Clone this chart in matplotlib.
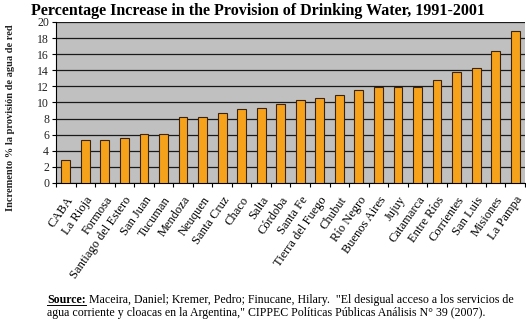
"""Incremento % en la provisión de agua de red por provincia, 1991-2001."""

import numpy as np
import matplotlib
matplotlib.use("Agg")
import matplotlib.pyplot as plt
from matplotlib.lines import Line2D

plt.rcParams["font.family"] = ["Liberation Serif", "DejaVu Serif"]

provinces = ["CABA", "La Rioja", "Formosa", "Santiago del Estero", "San Juan",
             "Tucuman", "Mendoza", "Neuquen", "Santa Cruz", "Chaco", "Salta",
             "Córdoba", "Santa Fe", "Tierra del Fuego", "Chubut", "Río Negro",
             "Buenos Aires", "Jujuy", "Catamarca", "Entre Ríos", "Corrientes",
             "San Luis", "Misiones", "La Pampa"]
increase = [2.9, 5.3, 5.4, 5.6, 6.1, 6.1, 8.2, 8.2, 8.7, 9.2, 9.3, 9.8,
            10.3, 10.5, 10.9, 11.6, 11.9, 11.9, 11.9, 12.8, 13.8, 14.3, 16.4, 18.9]
y_ticks = list(range(0, 21, 2))

title = "Percentage Increase in the Provision of Drinking Water, 1991-2001"
ylabel = "Incremento % la provisión de agua de red"
source_1 = ("Maceira, Daniel; Kremer, Pedro; Finucane, Hilary.  "
            "\"El desigual acceso a los servicios de")
source_2 = ("agua corriente y cloacas en la Argentina,\" CIPPEC Políticas "
            "Públicas Análisis N° 39 (2007).")

fig = plt.figure(figsize=(5.26, 3.24), dpi=100)
ax = fig.add_axes([56 / 526, 1 - 183 / 324, 469 / 526, 161 / 324])
ax.set_facecolor("#c0c0c0")

x = np.arange(len(provinces))
ax.bar(x, increase, width=0.45, color="#f7a21b", edgecolor="#3a2410",
       linewidth=0.8, zorder=3)

ax.set_xlim(-0.5, len(provinces) - 0.5)
ax.set_ylim(0, 20)
ax.set_yticks(y_ticks)
ax.yaxis.grid(True, color="#1a1a1a", linewidth=0.9, zorder=1)
ax.set_axisbelow(True)

ax.set_xticks(x)
ax.set_xticklabels(provinces, rotation=55, ha="right", rotation_mode="anchor",
                   fontsize=9)
ax.set_xticks(np.arange(-0.5, len(provinces), 1), minor=True)
ax.tick_params(axis="x", which="major", length=0, pad=8)
ax.tick_params(axis="x", which="minor", length=3, width=0.8, color="black")
ax.tick_params(axis="y", length=3, width=0.8, labelsize=8.5,
               labelcolor="#222222", pad=2)

for side in ("top", "right"):
    ax.spines[side].set_visible(False)
ax.spines["left"].set_color("black")
ax.spines["bottom"].set_color("black")

fig.text(31 / 526, 1 - 11 / 324, title, fontsize=11.5, fontweight="bold",
         ha="left", va="center")
fig.text(11 / 526, 1 - 118 / 324, ylabel, fontsize=7.5, fontweight="bold",
         rotation=90, ha="center", va="center", color="#222222")

src = fig.text(47 / 526, 1 - 300 / 324, "Source:", fontsize=8.6,
               fontweight="bold", ha="left", va="center")
fig.canvas.draw()
bb = src.get_window_extent().transformed(fig.transFigure.inverted())
fig.add_artist(Line2D([bb.x0, bb.x1], [bb.y0 + 0.002, bb.y0 + 0.002],
                      transform=fig.transFigure, color="black", linewidth=0.7))
fig.text(bb.x1 + 0.006, 1 - 300 / 324, source_1, fontsize=8.6, ha="left",
         va="center")
fig.text(47 / 526, 1 - 313 / 324, source_2, fontsize=8.6, ha="left",
         va="center")

fig.savefig("out.png", dpi=100)
plt.close(fig)
